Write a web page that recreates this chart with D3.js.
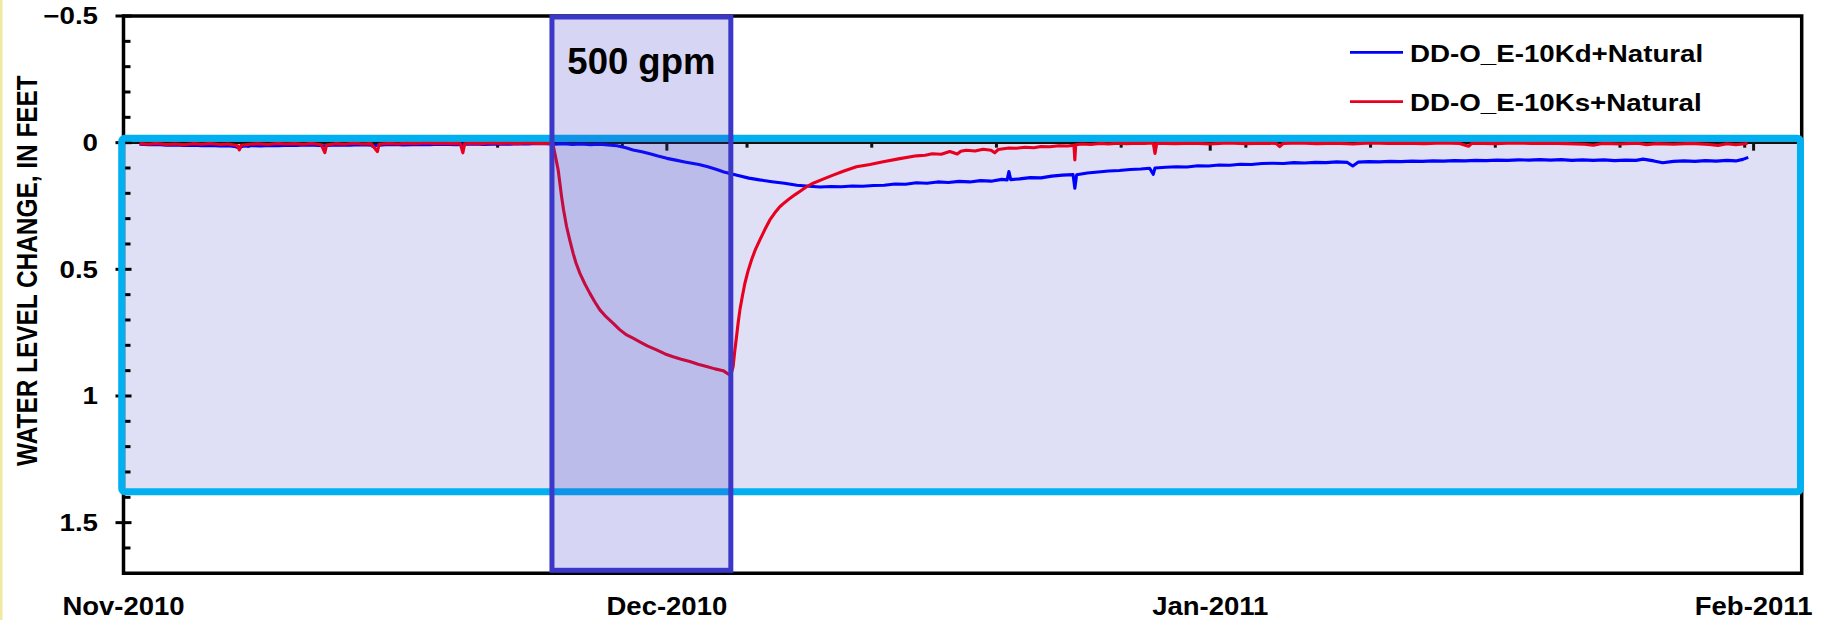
<!DOCTYPE html>
<html>
<head>
<meta charset="utf-8">
<script src="https://cdn.jsdelivr.net/npm/d3@7"></script>
<style>
  html, body { margin: 0; padding: 0; background: #ffffff; }
  svg { display: block; }
  text { font-family: "Liberation Sans", Arial, sans-serif; font-weight: bold; fill: #000; }
</style>
</head>
<body>
<svg id="chart" width="1825" height="620"></svg>
<script>
// ---- Data: [days since 1 Nov 2010 00:00 UTC, water-level change in feet] ----
const deepWell = [ // DD-O_E-10Kd+Natural
  [1.4,0.006],[1.9,0.008],[2.4,0.007],[2.9,0.010],[3.4,0.009],[3.9,0.011],[4.4,0.010],[4.9,0.012],
  [5.4,0.011],[5.9,0.013],[6.4,0.012],[6.8,0.016],[7.0,0.021],[7.2,0.014],[7.7,0.012],[8.2,0.013],
  [8.7,0.011],[9.2,0.012],[9.7,0.010],[10.2,0.011],[10.7,0.009],[11.2,0.010],[11.7,0.012],[12.2,0.010],
  [12.7,0.009],[13.2,0.010],[13.7,0.008],[14.2,0.009],[14.7,0.011],[15.2,0.008],[15.7,0.007],[16.2,0.009],
  [16.7,0.008],[17.2,0.007],[17.7,0.008],[18.2,0.006],[18.7,0.007],[19.2,0.008],[19.7,0.006],[20.2,0.005],
  [20.7,0.007],[21.2,0.006],[21.7,0.005],[22.2,0.006],[22.7,0.004],[23.2,0.005],[23.7,0.003],[24.2,0.004],
  [24.7,0.006],[25.2,0.004],[25.7,0.007],[26.2,0.005],[26.7,0.008],[27.2,0.006],[27.7,0.009],[28.2,0.012],
  [28.7,0.020],[29.1,0.029],[29.6,0.036],[30.1,0.045],[30.5,0.053],[31.0,0.062],[31.5,0.069],[32.0,0.076],
  [32.4,0.081],[32.8,0.086],[33.3,0.095],[33.8,0.106],[34.2,0.116],[34.6,0.123],[35.0,0.130],[35.6,0.140],
  [36.2,0.147],[36.9,0.154],[37.6,0.160],[38.3,0.168],[39.0,0.172],[39.6,0.175],[40.2,0.173],[40.8,0.174],
  [41.4,0.171],[42.0,0.172],[42.6,0.169],[43.2,0.168],[43.8,0.163],[44.4,0.164],[45.0,0.158],[45.6,0.160],
  [46.2,0.155],[46.8,0.157],[47.4,0.153],[48.0,0.155],[48.6,0.150],[49.2,0.152],[49.8,0.145],[50.1,0.147],
  [50.2,0.114],[50.3,0.146],[50.8,0.143],[51.4,0.138],[52.0,0.139],[52.6,0.132],[53.2,0.128],[53.8,0.126],
  [53.9,0.180],[54.0,0.127],[54.6,0.120],[55.2,0.116],[55.8,0.112],[56.4,0.110],[57.0,0.106],[57.6,0.104],
  [58.1,0.101],[58.3,0.125],[58.4,0.100],[59.0,0.097],[59.6,0.095],[60.2,0.096],[60.8,0.091],[61.4,0.092],
  [62.0,0.088],[62.6,0.089],[63.2,0.085],[63.8,0.086],[64.4,0.082],[65.0,0.081],[65.6,0.082],[66.2,0.079],
  [66.8,0.080],[67.4,0.078],[68.0,0.079],[68.6,0.076],[69.2,0.078],[69.5,0.092],[69.8,0.077],[70.4,0.075],
  [71.0,0.076],[71.6,0.074],[72.2,0.075],[72.8,0.073],[73.4,0.074],[74.0,0.072],[74.6,0.073],[75.2,0.071],
  [75.8,0.072],[76.4,0.070],[77.0,0.071],[77.6,0.069],[78.2,0.070],[78.8,0.068],[79.4,0.069],[80.0,0.067],
  [80.6,0.069],[81.2,0.067],[81.8,0.070],[82.4,0.068],[83.0,0.070],[83.6,0.068],[84.2,0.071],[84.8,0.069],
  [85.4,0.070],[85.8,0.065],[86.4,0.072],[86.9,0.079],[87.5,0.074],[88.1,0.072],[88.7,0.074],[89.3,0.071],
  [89.9,0.073],[90.5,0.070],[91.0,0.072],[91.4,0.066],[91.7,0.058]
];

const shallowWell = [ // DD-O_E-10Ks+Natural
  [1.4,0.004],[1.9,0.006],[2.4,0.003],[2.9,0.007],[3.4,0.005],[3.9,0.008],[4.4,0.004],[4.9,0.006],
  [5.4,0.003],[5.9,0.007],[6.4,0.005],[6.9,0.012],[7.0,0.029],[7.1,0.010],[7.6,0.006],[8.1,0.004],
  [8.6,0.007],[9.1,0.003],[9.6,0.005],[10.1,0.004],[10.6,0.006],[11.1,0.003],[11.6,0.008],[11.8,0.039],
  [11.9,0.009],[12.4,0.004],[12.9,0.006],[13.4,0.002],[13.9,0.005],[14.4,0.004],[14.75,0.035],[14.85,0.006],
  [15.4,0.003],[15.9,0.005],[16.4,0.002],[16.9,0.004],[17.4,0.001],[17.9,0.003],[18.4,0.002],[18.9,0.004],
  [19.4,0.003],[19.55,0.040],[19.65,0.004],[20.1,0.002],[20.6,0.004],[21.1,0.001],[21.6,0.003],[22.1,0.002],
  [22.6,0.004],[23.1,0.001],[23.6,0.003],[24.1,0.002],[24.5,0.003],
  [24.6,0.005],[24.75,0.055],[24.9,0.108],[25.09,0.213],[25.2,0.265],[25.37,0.331],[25.55,0.385],[25.74,0.437],
  [25.9,0.475],[26.12,0.516],[26.4,0.558],[26.68,0.595],[26.95,0.628],[27.24,0.660],[27.6,0.688],[27.99,0.713],
  [28.35,0.738],[28.74,0.759],[29.1,0.772],[29.48,0.786],[29.9,0.802],[30.42,0.818],[30.9,0.834],[31.35,0.845],
  [31.8,0.855],[32.29,0.864],[32.75,0.875],[33.23,0.884],[33.7,0.893],[34.16,0.900],[34.44,0.913],[34.56,0.918],
  [34.66,0.900],[34.72,0.884],[34.8,0.830],[34.91,0.766],[35.0,0.712],[35.1,0.660],[35.24,0.605],[35.38,0.555],
  [35.55,0.508],[35.75,0.463],[35.98,0.420],[36.22,0.384],[36.5,0.343],[36.78,0.305],[37.05,0.278],[37.34,0.253],
  [37.62,0.236],[37.9,0.220],[38.2,0.205],[38.46,0.193],[38.8,0.176],[39.21,0.160],[39.7,0.146],[40.33,0.128],
  [40.9,0.113],[41.64,0.095],[42.4,0.086],[43.14,0.075],[44.0,0.064],[45.01,0.052],[45.5,0.050],[45.9,0.044],
  [46.4,0.046],[46.88,0.035],[47.3,0.045],[47.5,0.034],[47.8,0.030],[48.3,0.033],[48.75,0.026],[49.2,0.030],
  [49.4,0.040],[49.6,0.027],[49.8,0.025],[50.2,0.021],[50.62,0.022],[51.1,0.018],[51.6,0.020],[52.0,0.015],
  [52.49,0.016],[53.0,0.012],[53.5,0.013],[53.85,0.010],[53.9,0.068],[53.95,0.008],[54.3,0.005],[54.8,0.007],
  [55.3,0.003],[55.8,0.005],[56.3,0.002],[56.8,0.004],[57.3,0.002],[57.8,0.003],[58.3,0.001],[58.4,0.043],
  [58.5,0.002],[59.0,0.003],[59.5,0.004],[60.5,0.002],[61.5,0.005],[62.5,0.001],[63.5,0.004],[64.5,0.002],
  [65.2,0.003],[65.4,0.016],[65.6,0.003],[66.5,0.001],[67.5,0.004],[68.5,0.002],[69.5,0.005],[70.5,0.001],
  [71.5,0.003],[72.5,0.002],[73.5,0.004],[74.5,0.001],[75.5,0.003],[76.0,0.014],[76.2,0.002],[77.5,0.004],
  [78.5,0.001],[79.5,0.003],[80.5,0.002],[81.5,0.004],[82.5,0.006],[83.0,0.010],[83.5,0.003],[84.5,0.005],
  [85.5,0.002],[86.0,0.008],[86.5,0.004],[87.5,0.006],[88.5,0.003],[89.5,0.007],[90.0,0.011],[90.5,0.004],
  [91.0,0.008],[91.66,0.003]
];

const seriesNames = ["DD-O_E-10Kd+Natural", "DD-O_E-10Ks+Natural"];
const seriesColors = ["#0000ff", "#e8001e"];

const levelMajorTicks = [-0.5, 0, 0.5, 1, 1.5];
const levelDomain = [-0.5, 1.7];

// Time axis: starts 1 Nov 2010 12:00, labelled every 30.5 days, minor marks weekly
const axisStart = Date.UTC(2010, 10, 1, 12);
const axisSpanDays = 94.2;
const majorStepDays = 30.5;
const minorStepDays = 7;

// Pumping period and the monitored window
const pumpStartDay = 24.55, pumpEndDay = 34.59, pumpLabel = "500 gpm";
const windowDays = [0.4, 94.63], windowLevels = [-0.017, 1.378];

const yAxisTitle = "WATER LEVEL CHANGE, IN FEET";

// ---- Layout ----
const DAY = 864e5;
const epoch = Date.UTC(2010, 10, 1);
const toDate = d => new Date(epoch + d * DAY);
const plot = { left: 123.5, right: 1801.7, top: 16, bottom: 573.3 };
const stretch = 1.18;

const svg = d3.select("#chart");
const x = d3.scaleUtc()
  .domain([new Date(axisStart), new Date(axisStart + axisSpanDays * DAY)])
  .range([plot.left, plot.right]);
const y = d3.scaleLinear().domain(levelDomain).range([plot.top, plot.bottom]);

const fmt = d3.utcFormat("%b-%Y");
const majorDates = d3.range(0, axisSpanDays, majorStepDays).map(d => new Date(axisStart + d * DAY));
const minorDates = d3.range(0, axisSpanDays, minorStepDays).map(d => new Date(axisStart + d * DAY));
const minorLevels = d3.range(-4, 17).map(i => i / 10).filter(v => Math.round(v * 10) % 5 !== 0);

// pale strip at the left edge of the slide
svg.append("rect").attr("x", 0).attr("y", 0).attr("width", 2.5).attr("height", 620).attr("fill", "#efe9a3");

// monitored-window fill
const wx0 = x(toDate(windowDays[0])), wx1 = x(toDate(windowDays[1]));
const wy0 = y(windowLevels[0]), wy1 = y(windowLevels[1]);
svg.append("rect").attr("x", wx0).attr("y", wy0).attr("width", wx1 - wx0).attr("height", wy1 - wy0)
  .attr("fill", "#dfe0f5");

// plot frame
svg.append("path")
  .attr("d", `M${plot.left},${plot.top}H${plot.right}V${plot.bottom}H${plot.left}Z`)
  .attr("fill", "none").attr("stroke", "#000").attr("stroke-width", 3.5);

// horizontal axis along zero level
const y0 = y(0);
svg.append("line").attr("x1", plot.left).attr("x2", plot.right).attr("y1", y0).attr("y2", y0)
  .attr("stroke", "#111").attr("stroke-width", 2.5);
svg.append("g").selectAll("line").data(minorDates.filter(d => +d > axisStart)).join("line")
  .attr("x1", d => x(d)).attr("x2", d => x(d)).attr("y1", y0).attr("y2", y0 + 5)
  .attr("stroke", "#111").attr("stroke-width", 3);
svg.append("g").selectAll("line").data(majorDates.filter(d => +d > axisStart)).join("line")
  .attr("x1", d => x(d)).attr("x2", d => x(d)).attr("y1", y0).attr("y2", y0 + 8)
  .attr("stroke", "#111").attr("stroke-width", 3);

// vertical axis ticks
svg.append("g").selectAll("line").data(minorLevels).join("line")
  .attr("x1", plot.left).attr("x2", plot.left + 7).attr("y1", d => y(d)).attr("y2", d => y(d))
  .attr("stroke", "#000").attr("stroke-width", 3);
svg.append("g").selectAll("line").data(levelMajorTicks).join("line")
  .attr("x1", plot.left - 8).attr("x2", plot.left + 8).attr("y1", d => y(d)).attr("y2", d => y(d))
  .attr("stroke", "#000").attr("stroke-width", 3);

// vertical axis labels
svg.append("g").selectAll("text").data(levelMajorTicks).join("text")
  .attr("transform", d => `translate(98,${y(d)}) scale(${stretch},1)`)
  .attr("text-anchor", "end").attr("dy", "0.36em").style("font-size", "23.5px")
  .text(d => d3.format("")(d));

// axis title
svg.append("text")
  .attr("transform", `translate(37.3,270.6) scale(${stretch},1) rotate(-90)`)
  .attr("text-anchor", "middle").style("font-size", "24.4px")
  .text(yAxisTitle);

// time labels
svg.append("g").selectAll("text").data(majorDates).join("text")
  .attr("transform", d => `translate(${x(d)},614.5) scale(1.1,1)`)
  .attr("text-anchor", "middle").style("font-size", "25px")
  .text(d => fmt(d));

// series
const line = d3.line().x(d => x(toDate(d[0]))).y(d => y(d[1]));
[deepWell, shallowWell].forEach((s, i) => {
  svg.append("path").datum(s).attr("d", line)
    .attr("fill", "none").attr("stroke", seriesColors[i]).attr("stroke-width", 3.1)
    .attr("stroke-linejoin", "round");
});

// monitored-window outline
svg.append("rect").attr("x", wx0).attr("y", wy0).attr("width", wx1 - wx0).attr("height", wy1 - wy0)
  .attr("rx", 3).attr("fill", "none").attr("stroke", "#00b0f0").attr("stroke-width", 7);

// pumping period
const px0 = x(toDate(pumpStartDay)), px1 = x(toDate(pumpEndDay));
const pyTop = y(levelDomain[0]) + 1, pyBot = y(levelDomain[1]) - 3;
svg.append("rect").attr("x", px0).attr("y", pyTop).attr("width", px1 - px0).attr("height", pyBot - pyTop)
  .attr("fill", "rgb(62,58,200)").attr("fill-opacity", 0.21)
  .attr("stroke", "#3a37c9").attr("stroke-width", 5);
svg.append("text").attr("x", (px0 + px1) / 2).attr("y", 73.5)
  .attr("text-anchor", "middle").style("font-size", "36.5px").text(pumpLabel);

// legend
const legend = svg.append("g");
seriesNames.forEach((name, i) => {
  const ly = 52.3 + i * 49.4;
  legend.append("line").attr("x1", 1350).attr("x2", 1403).attr("y1", ly).attr("y2", ly)
    .attr("stroke", seriesColors[i]).attr("stroke-width", 2.7);
  legend.append("text").attr("transform", `translate(1410,${ly + 9.5}) scale(1.155,1)`)
    .style("font-size", "24px").text(name);
});
</script>
</body>
</html>
